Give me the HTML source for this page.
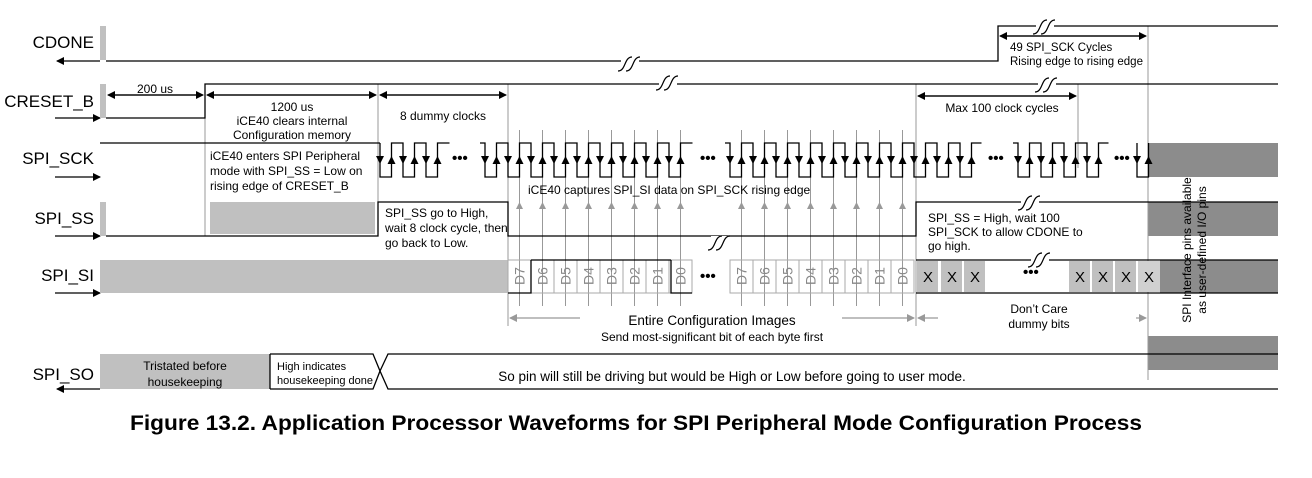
<!DOCTYPE html>
<html><head><meta charset="utf-8"><style>
html,body{margin:0;padding:0;background:#fff;}
svg{display:block;font-family:"Liberation Sans",Arial,sans-serif;}
</style></head><body>
<svg width="1312" height="478" viewBox="0 0 1312 478" xmlns="http://www.w3.org/2000/svg">
<defs>
<marker id="ab" markerWidth="8" markerHeight="8" refX="7" refY="4" orient="auto" markerUnits="userSpaceOnUse"><path d="M0,0 L8,4 L0,8 z" fill="#000"/></marker>
<marker id="ag" markerWidth="8" markerHeight="8" refX="7" refY="4" orient="auto" markerUnits="userSpaceOnUse"><path d="M0,0 L8,4 L0,8 z" fill="#999"/></marker>
<g id="bk"><rect x="-9" y="-4" width="18" height="14" fill="#fff"/><path d="M-12,10 C-4,10 -6,-4 2,-4 M-4,10 C4,10 2,-4 10,-4" fill="none" stroke="#000" stroke-width="1.2"/></g>
<g id="dl"><line x1="0" y1="130" x2="0" y2="306" stroke="#999" stroke-width="1"/><path d="M-3.5,209 L3.5,209 L0,202z" fill="#999"/><rect x="-11.5" y="260" width="23" height="33" fill="none" stroke="#aaa" stroke-width="1"/></g>
</defs>
<g font-size="17" text-anchor="end" fill="#000">
<text x="94" y="48">CDONE</text>
<text x="94" y="107">CRESET_B</text>
<text x="94" y="164">SPI_SCK</text>
<text x="94" y="224">SPI_SS</text>
<text x="94" y="281">SPI_SI</text>
<text x="94" y="380">SPI_SO</text>
</g>
<g stroke="#000" stroke-width="1.3">
<line x1="100" y1="61" x2="57" y2="61" marker-end="url(#ab)"/>
<line x1="55" y1="118" x2="100" y2="118" marker-end="url(#ab)"/>
<line x1="55" y1="177" x2="100" y2="177" marker-end="url(#ab)"/>
<line x1="55" y1="236" x2="100" y2="236" marker-end="url(#ab)"/>
<line x1="55" y1="293" x2="100" y2="293" marker-end="url(#ab)"/>
<line x1="100" y1="389" x2="57" y2="389" marker-end="url(#ab)"/>
</g>
<g fill="#c0c0c0">
<rect x="100" y="26" width="6" height="34"/>
<rect x="100" y="84" width="6" height="34"/>
<rect x="100" y="202" width="6" height="34"/>
<rect x="210" y="202" width="165" height="32"/>
<rect x="100" y="260" width="408" height="33"/>
<rect x="100" y="354" width="170" height="35"/>
</g>
<g fill="#8c8c8c">
<rect x="1148" y="143" width="130" height="34"/>
<rect x="1148" y="202" width="130" height="34"/>
<rect x="1160" y="260" width="118" height="33"/>
<rect x="1148" y="336" width="130" height="34"/>
</g>
<g stroke="#999" stroke-width="1">
<line x1="205" y1="84" x2="205" y2="236"/>
<line x1="378" y1="84" x2="378" y2="236"/>
<line x1="508" y1="84" x2="508" y2="326"/>
<line x1="916" y1="84" x2="916" y2="326"/>
<line x1="1078" y1="84" x2="1078" y2="168"/>
<line x1="1148" y1="26" x2="1148" y2="380"/>
</g>
<use href="#dl" x="519.5"/><use href="#dl" x="542.5"/><use href="#dl" x="565.5"/><use href="#dl" x="588.5"/>
<use href="#dl" x="611.5"/><use href="#dl" x="634.5"/><use href="#dl" x="657.5"/><use href="#dl" x="680.5"/>
<use href="#dl" x="741.5"/><use href="#dl" x="764.5"/><use href="#dl" x="787.5"/><use href="#dl" x="810.5"/>
<use href="#dl" x="833.5"/><use href="#dl" x="856.5"/><use href="#dl" x="879.5"/><use href="#dl" x="902.5"/>
<g font-size="14" fill="#888" text-anchor="middle">
<text transform="translate(524.5,276) rotate(-90)">D7</text>
<text transform="translate(547.5,276) rotate(-90)">D6</text>
<text transform="translate(570.5,276) rotate(-90)">D5</text>
<text transform="translate(593.5,276) rotate(-90)">D4</text>
<text transform="translate(616.5,276) rotate(-90)">D3</text>
<text transform="translate(639.5,276) rotate(-90)">D2</text>
<text transform="translate(662.5,276) rotate(-90)">D1</text>
<text transform="translate(685.5,276) rotate(-90)">D0</text>
<text transform="translate(746.5,276) rotate(-90)">D7</text>
<text transform="translate(769.5,276) rotate(-90)">D6</text>
<text transform="translate(792.5,276) rotate(-90)">D5</text>
<text transform="translate(815.5,276) rotate(-90)">D4</text>
<text transform="translate(838.5,276) rotate(-90)">D3</text>
<text transform="translate(861.5,276) rotate(-90)">D2</text>
<text transform="translate(884.5,276) rotate(-90)">D1</text>
<text transform="translate(907.5,276) rotate(-90)">D0</text>
</g>
<g>
<rect x="917" y="261" width="21" height="31" fill="#c0c0c0"/>
<rect x="941" y="261" width="21" height="31" fill="#c0c0c0"/>
<rect x="964" y="261" width="21" height="31" fill="#c0c0c0"/>
<rect x="1069" y="261" width="21" height="31" fill="#c0c0c0"/>
<rect x="1092" y="261" width="21" height="31" fill="#c0c0c0"/>
<rect x="1115" y="261" width="21" height="31" fill="#c0c0c0"/>
<rect x="1138" y="261" width="22" height="31" fill="#d0d0d0"/>
</g>
<g font-size="15" text-anchor="middle" fill="#000">
<text x="928" y="282">X</text><text x="952" y="282">X</text><text x="975" y="282">X</text>
<text x="1080" y="282">X</text><text x="1103" y="282">X</text><text x="1126" y="282">X</text><text x="1149" y="282">X</text>
</g>
<g stroke="#000" stroke-width="1.3" fill="none">
<polyline points="106,61 998,61 998,26 1278,26"/>
<polyline points="106,118 205,118 205,84 1278,84"/>
<line x1="100" y1="143" x2="380" y2="143"/>
<polyline points="106,236 378,236 378,202 508,202 508,236 916,236 916,202 1278,202"/>
<polyline points="916,260 1278,260"/>
<polyline points="916,293 1278,293"/>
<polyline points="531,260 671,260"/>
<polyline points="508,293 531,293 531,260"/>
<polyline points="671,260 671,293 692,293"/>
<polyline points="270,354 373,354 380,371 388,354 1278,354"/>
<polyline points="270,389 373,389 380,371 388,389 1278,389"/>
<line x1="270" y1="354" x2="270" y2="389"/>
<polyline points="380,143 380,177 391.5,177 391.5,143 403,143 403,177 414.5,177 414.5,143 426,143 426,177 437.5,177 437.5,143 449.5,143"/>
<polyline points="480,143 485,143 485,177 496.5,177 496.5,143 508,143 508,177 519.5,177 519.5,143 531,143 531,177 542.5,177 542.5,143 554,143 554,177 565.5,177 565.5,143 577,143 577,177 588.5,177 588.5,143 600,143 600,177 611.5,177 611.5,143 623,143 623,177 634.5,177 634.5,143 646,143 646,177 657.5,177 657.5,143 669,143 669,177 680.5,177 680.5,143 692.5,143"/>
<polyline points="725,143 730,143 730,177 741.5,177 741.5,143 753,143 753,177 764.5,177 764.5,143 776,143 776,177 787.5,177 787.5,143 799,143 799,177 810.5,177 810.5,143 822,143 822,177 833.5,177 833.5,143 845,143 845,177 856.5,177 856.5,143 868,143 868,177 879.5,177 879.5,143 891,143 891,177 902.5,177 902.5,143 914,143 914,177 925.5,177 925.5,143 937,143 937,177 948.5,177 948.5,143 960,143 960,177 971.5,177 971.5,143 981.5,143"/>
<polyline points="1013,143 1018,143 1018,177 1029.5,177 1029.5,143 1041,143 1041,177 1052.5,177 1052.5,143 1064,143 1064,177 1075.5,177 1075.5,143 1087,143 1087,177 1098.5,177 1098.5,143 1108.5,143"/>
<polyline points="1137,143 1137,177 1148.5,177 1148.5,143"/>
</g>
<path fill="#000" d="
M376,156h8l-4,8z M399,156h8l-4,8z M422,156h8l-4,8z
M387.5,164h8l-4,-8z M410.5,164h8l-4,-8z M433.5,164h8l-4,-8z
M481,156h8l-4,8z M504,156h8l-4,8z M527,156h8l-4,8z M550,156h8l-4,8z M573,156h8l-4,8z M596,156h8l-4,8z M619,156h8l-4,8z M642,156h8l-4,8z M665,156h8l-4,8z
M492.5,164h8l-4,-8z M515.5,164h8l-4,-8z M538.5,164h8l-4,-8z M561.5,164h8l-4,-8z M584.5,164h8l-4,-8z M607.5,164h8l-4,-8z M630.5,164h8l-4,-8z M653.5,164h8l-4,-8z M676.5,164h8l-4,-8z
M726,156h8l-4,8z M749,156h8l-4,8z M772,156h8l-4,8z M795,156h8l-4,8z M818,156h8l-4,8z M841,156h8l-4,8z M864,156h8l-4,8z M887,156h8l-4,8z M910,156h8l-4,8z M933,156h8l-4,8z M956,156h8l-4,8z
M737.5,164h8l-4,-8z M760.5,164h8l-4,-8z M783.5,164h8l-4,-8z M806.5,164h8l-4,-8z M829.5,164h8l-4,-8z M852.5,164h8l-4,-8z M875.5,164h8l-4,-8z M898.5,164h8l-4,-8z M921.5,164h8l-4,-8z M944.5,164h8l-4,-8z M967.5,164h8l-4,-8z
M1014,156h8l-4,8z M1037,156h8l-4,8z M1060,156h8l-4,8z M1083,156h8l-4,8z
M1025.5,164h8l-4,-8z M1048.5,164h8l-4,-8z M1071.5,164h8l-4,-8z M1094.5,164h8l-4,-8z
M1133,156h8l-4,8z M1144.5,164h8l-4,-8z"/>
<g stroke="#000" stroke-width="1.2">
<line x1="110" y1="95" x2="203" y2="95" marker-end="url(#ab)"/><line x1="200" y1="95" x2="108" y2="95" marker-end="url(#ab)"/>
<line x1="210" y1="95" x2="376" y2="95" marker-end="url(#ab)"/><line x1="372" y1="95" x2="207" y2="95" marker-end="url(#ab)"/>
<line x1="384" y1="95" x2="506" y2="95" marker-end="url(#ab)"/><line x1="500" y1="95" x2="380" y2="95" marker-end="url(#ab)"/>
<line x1="922" y1="96" x2="1076" y2="96" marker-end="url(#ab)"/><line x1="1070" y1="96" x2="918" y2="96" marker-end="url(#ab)"/>
<line x1="1004" y1="36" x2="1146" y2="36" marker-end="url(#ab)"/><line x1="1140" y1="36" x2="1000" y2="36" marker-end="url(#ab)"/>
</g>
<g stroke="#999" stroke-width="1.2">
<line x1="580" y1="318" x2="510" y2="318" marker-end="url(#ag)"/>
<line x1="842" y1="318" x2="914" y2="318" marker-end="url(#ag)"/>
<line x1="938" y1="318" x2="918" y2="318" marker-end="url(#ag)"/>
<line x1="1136" y1="318" x2="1146" y2="318" marker-end="url(#ag)"/>
</g>
<use href="#bk" x="630" y="61"/><use href="#bk" x="668" y="80"/><use href="#bk" x="1045" y="24"/>
<use href="#bk" x="1047" y="82"/><use href="#bk" x="720" y="240"/><use href="#bk" x="1030" y="200"/><use href="#bk" x="1040" y="257"/>
<g font-size="12" fill="#000">
<text x="155" y="93" text-anchor="middle">200 us</text>
<text x="292" y="111" text-anchor="middle">1200 us</text>
<text x="292" y="125" text-anchor="middle">iCE40 clears internal</text>
<text x="292" y="139" text-anchor="middle">Configuration memory</text>
<text x="443" y="120" text-anchor="middle">8 dummy clocks</text>
<text x="1002" y="112" text-anchor="middle">Max 100 clock cycles</text>
<text x="1010" y="51" font-size="11.5">49 SPI_SCK Cycles</text>
<text x="1010" y="65" font-size="11.5">Rising edge to rising edge</text>
<text x="210" y="160">iCE40 enters SPI Peripheral</text>
<text x="210" y="175">mode with SPI_SS = Low on</text>
<text x="210" y="190">rising edge of CRESET_B</text>
<text x="528" y="194">iCE40 captures SPI_SI data on SPI_SCK rising edge</text>
<text x="385" y="217">SPI_SS go to High,</text>
<text x="385" y="232">wait 8 clock cycle, then</text>
<text x="385" y="247">go back to Low.</text>
<text x="928" y="222">SPI_SS = High, wait 100</text>
<text x="928" y="236">SPI_SCK to allow CDONE to</text>
<text x="928" y="250">go high.</text>
<text x="1039" y="313" text-anchor="middle">Don’t Care</text>
<text x="1039" y="328" text-anchor="middle">dummy bits</text>
<text x="712" y="325" text-anchor="middle" font-size="13.5">Entire Configuration Images</text>
<text x="712" y="341" text-anchor="middle">Send most-significant bit of each byte first</text>
<text x="185" y="370" text-anchor="middle">Tristated before</text>
<text x="185" y="386" text-anchor="middle">housekeeping</text>
<text x="277" y="370" font-size="11">High indicates</text>
<text x="277" y="384" font-size="11">housekeeping done</text>
<text x="732" y="381" text-anchor="middle" font-size="13.5">So pin will still be driving but would be High or Low before going to user mode.</text>
<text transform="translate(1191,250) rotate(-90)" text-anchor="middle">SPI Interface pins available</text>
<text transform="translate(1206,250) rotate(-90)" text-anchor="middle">as user-defined I/O pins</text>
</g>
<g font-size="15" font-weight="bold" fill="#000">
<text x="452" y="163">•••</text><text x="700" y="163">•••</text><text x="988" y="163">•••</text><text x="1114" y="163">•••</text>
<text x="700" y="281">•••</text><text x="1023" y="277">•••</text>
</g>
<text x="636" y="430" text-anchor="middle" font-size="21" font-weight="bold" textLength="1012" lengthAdjust="spacingAndGlyphs">Figure 13.2. Application Processor Waveforms for SPI Peripheral Mode Configuration Process</text>
</svg>
</body></html>
